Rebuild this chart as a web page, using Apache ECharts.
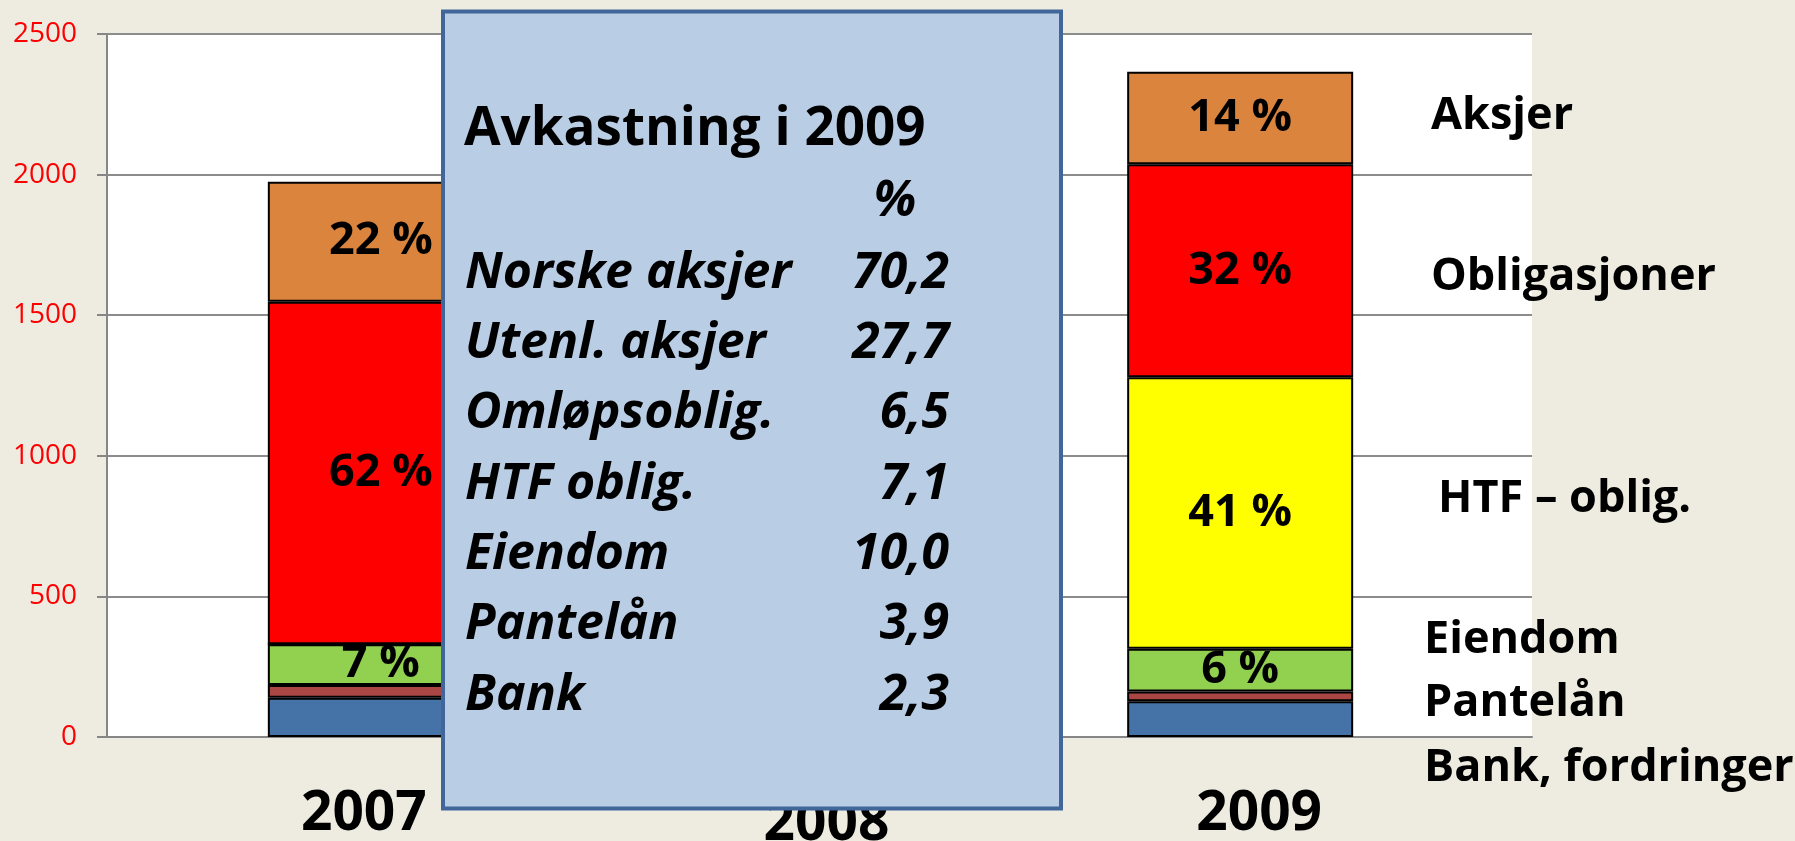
<!DOCTYPE html>
<html>
<head>
<meta charset="utf-8">
<script src="https://cdn.jsdelivr.net/npm/echarts@6/dist/echarts.min.js"></script>
<style>
html,body{margin:0;padding:0;background:#EEECE1;}
#main{width:1795px;height:841px;}
</style>
</head>
<body>
<div id="main"></div>
<script>
// kategorier og verdier (mill. kr), lest av figuren
var years = ['2007', '2008', '2009'];
var seriesNames = ['Bank, fordringer', 'Pantelån', 'Eiendom', 'HTF – oblig.', 'Obligasjoner', 'Aksjer'];
var bank = [140, null, 127];
var pantelan = [45, null, 35];
var eiendom = [145, null, 152];
var htf = [0, null, 965];
var obligasjoner = [1218, null, 758];
var aksjer = [427, null, 329];
var yTicks = [0, 500, 1000, 1500, 2000, 2500];

// tabellen i boksen
var returnNames = ['Norske aksjer', 'Utenl. aksjer', 'Omløpsoblig.', 'HTF oblig.', 'Eiendom', 'Pantelån', 'Bank'];
var returnValues = [70.2, 27.7, 6.5, 7.1, 10.0, 3.9, 2.3];

var allSeries = [bank, pantelan, eiendom, htf, obligasjoner, aksjer];
var colors = ['#4572A7', '#AA4643', '#92D050', '#FFFF00', '#FF0000', '#DB843D'];
var withLabel = [false, false, true, true, true, true];

var totals = years.map(function (y, i) {
    var s = 0;
    allSeries.forEach(function (arr) { s += arr[i] || 0; });
    return s;
});

var series = allSeries.map(function (arr, k) {
    return {
        name: seriesNames[k],
        type: 'bar',
        stack: 'total',
        xAxisIndex: 1,
        yAxisIndex: 1,
        barWidth: 226,
        data: arr,
        itemStyle: { color: colors[k], borderColor: '#000', borderWidth: 2 },
        label: {
            show: withLabel[k],
            position: 'inside',
            fontFamily: 'Open Sans',
            fontWeight: 'bold',
            fontSize: 45,
            color: '#000',
            formatter: function (p) {
                if (!p.value) return '';
                return Math.round(p.value / totals[p.dataIndex] * 100) + ' %';
            }
        }
    };
});

var chart = echarts.init(document.getElementById('main'));

function txt(x, y, text, font, align) {
    return {
        type: 'text', x: x, y: y, z: 100,
        style: { text: text, font: font, fill: '#000', align: align, textAlign: align, verticalAlign: 'middle', textVerticalAlign: 'middle' }
    };
}

var rowFont = 'italic bold 50px "Open Sans"';
var boxElems = [
    { type: 'rect', z: 100, shape: { x: 443, y: 11.5, width: 618, height: 797 }, style: { fill: '#B9CDE5', stroke: '#41669A', lineWidth: 4 } },
    txt(464, 130, 'Avkastning i 2009', 'bold 53px "Open Sans"', 'left'),
    txt(895, 202, '%', rowFont, 'center')
];
returnNames.forEach(function (n, i) {
    var y = 273.5 + 70.3 * i;
    boxElems.push(txt(465, y, n, rowFont, 'left'));
    boxElems.push(txt(949, y, returnValues[i].toFixed(1).replace('.', ','), rowFont, 'right'));
});

// navn til høyre
var sideFont = 'bold 45px "Open Sans"';
var sideElems = [
    txt(1431, 116, seriesNames[5], sideFont, 'left'),
    txt(1431, 277, seriesNames[4], sideFont, 'left'),
    txt(1438, 499, seriesNames[3], sideFont, 'left'),
    txt(1424, 640, seriesNames[2], sideFont, 'left'),
    txt(1424, 703, seriesNames[1], sideFont, 'left'),
    txt(1424, 768, seriesNames[0], sideFont, 'left')
];

var yearFont = { fontFamily: 'Open Sans', fontWeight: 'bold', fontSize: 55, color: '#000' };

option = {
    backgroundColor: '#EEECE1',
    animation: false,
    grid: [
        { left: 107, top: 34, right: 263, bottom: 104, show: true, backgroundColor: '#fff', borderWidth: 0, outerBoundsMode: 'none' },
        { left: 166, top: 34, right: 340, bottom: 104, outerBoundsMode: 'none' }
    ],
    xAxis: [
        {
            gridIndex: 0,
            type: 'category',
            data: years,
            axisLine: { show: true, lineStyle: { color: '#868686', width: 2 } },
            axisTick: { show: false },
            axisLabel: { show: false },
            splitLine: { show: false }
        },
        {
            gridIndex: 1,
            type: 'category',
            data: years,
            axisLine: { show: false },
            axisTick: { show: false },
            splitLine: { show: false },
            axisLabel: {
                margin: 50,
                fontFamily: 'Open Sans',
                fontWeight: 'bold',
                fontSize: 55,
                color: '#000',
                formatter: function (v, i) { return '{y' + i + '|' + v + '}'; },
                rich: {
                    y0: Object.assign({ padding: [0, 34, 0, 0] }, yearFont),
                    y1: Object.assign({ padding: [10, 0, 0, 32] }, yearFont),
                    y2: Object.assign({ padding: [0, 0, 0, 38] }, yearFont)
                }
            }
        }
    ],
    yAxis: [
        {
            gridIndex: 0,
            type: 'value',
            min: yTicks[0],
            max: yTicks[yTicks.length - 1],
            interval: 500,
            axisLine: { show: true, lineStyle: { color: '#868686', width: 2 } },
            axisTick: { show: true, length: 10, lineStyle: { color: '#868686', width: 2 } },
            splitLine: { show: true, lineStyle: { color: '#8C8C8C', width: 2 } },
            axisLabel: {
                margin: 30,
                fontFamily: 'Open Sans',
                fontSize: 28,
                color: '#FF0000',
                formatter: function (v) { return String(v); }
            }
        },
        {
            gridIndex: 1,
            type: 'value',
            min: yTicks[0],
            max: yTicks[yTicks.length - 1],
            interval: 500,
            show: false
        }
    ],
    series: series,
    graphic: boxElems.concat(sideElems)
};
chart.setOption(option);
</script>
</body>
</html>
